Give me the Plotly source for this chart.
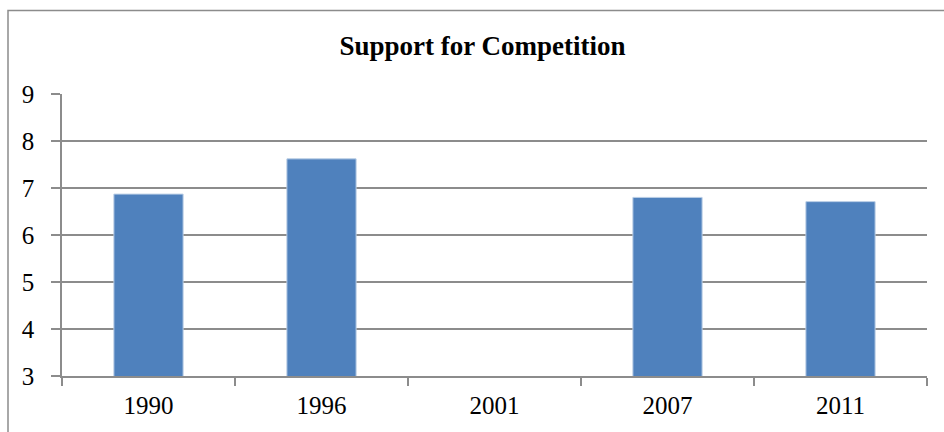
import plotly.graph_objects as go

years = ["1990", "1996", "2001", "2007", "2011"]
support = [6.87, 7.62, None, 6.80, 6.71]
y_ticks = [3, 4, 5, 6, 7, 8, 9]

W, H = 944, 432
L, R, T, B = 62, 17, 94, 56
pw, ph = W - L - R, H - T - B

fig = go.Figure()
fig.add_trace(go.Bar(
    x=years, y=support,
    marker=dict(color="#4F81BD", line=dict(color="#B9CDE5", width=1)),
    width=0.4,
))

grid = "#8C8C8C"
serif = "Liberation Serif, Times New Roman, serif"

fig.update_layout(
    width=W, height=H,
    margin=dict(l=L, r=R, t=T, b=B, pad=0),
    paper_bgcolor="white", plot_bgcolor="white",
    showlegend=False,
    font=dict(family=serif, color="black", size=25),
    title=dict(
        text="<b>Support for Competition</b>",
        font=dict(family=serif, size=27, color="black"),
        x=482.5 / W, xanchor="center", xref="container",
        y=1 - 46 / H, yanchor="middle", yref="container",
    ),
    xaxis=dict(
        type="category",
        showgrid=False,
        showline=True, linecolor=grid, linewidth=1.5,
        ticks="outside", tickson="boundaries", ticklen=8, tickcolor=grid, tickwidth=1.5,
        tickfont=dict(family=serif, size=25, color="black"),
        ticklabelstandoff=6,
    ),
    yaxis=dict(
        range=[3, 9],
        tickvals=y_ticks,
        showgrid=True, gridcolor=grid, gridwidth=1.5,
        showline=True, linecolor=grid, linewidth=1.5,
        ticks="outside", ticklen=9, tickcolor=grid, tickwidth=1.5,
        tickfont=dict(family=serif, size=25, color="black"),
        ticklabelstandoff=12,
        zeroline=False,
    ),
    shapes=[dict(
        type="rect", xref="paper", yref="paper",
        x0=(8 - L) / pw, x1=(W + 20 - L) / pw,
        y0=-(H + 20 - (T + ph)) / ph, y1=1 + (T - 10.5) / ph,
        line=dict(color="#8C8C8C", width=1.5),
        fillcolor="rgba(0,0,0,0)", layer="above",
    )],
)

fig.write_html("out.html")
